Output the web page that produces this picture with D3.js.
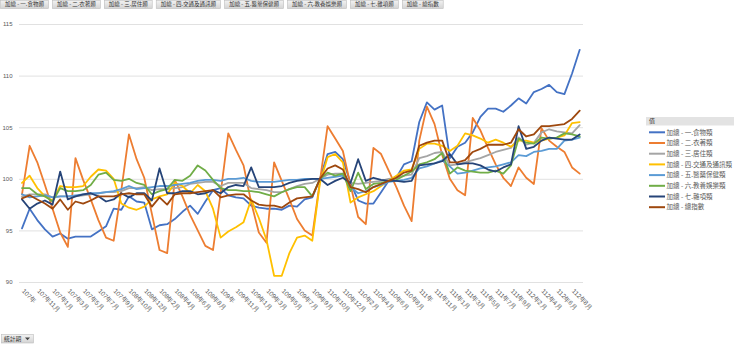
<!DOCTYPE html>
<html><head><meta charset="utf-8">
<script src="https://cdn.jsdelivr.net/npm/d3@7"></script>
<style>
html,body{margin:0;padding:0;background:#fff;overflow:hidden}
svg{display:block;font-family:"Noto Sans CJK TC","Noto Sans",sans-serif}
</style></head><body>
<svg id="chart" width="740" height="344"></svg>
<script>
// 統計期 (pivot row order: text sort of the period labels)
const categories = [
  "107年","107年10月","107年11月","107年12月","107年1月","107年2月","107年3月","107年4月","107年5月","107年6月","107年7月","107年8月","107年9月",
  "108年","108年10月","108年11月","108年12月","108年1月","108年2月","108年3月","108年4月","108年5月","108年6月","108年7月","108年8月","108年9月",
  "109年","109年10月","109年11月","109年12月","109年1月","109年2月","109年3月","109年4月","109年5月","109年6月","109年7月","109年8月","109年9月",
  "110年","110年10月","110年11月","110年12月","110年1月","110年2月","110年3月","110年4月","110年5月","110年6月","110年7月","110年8月","110年9月",
  "111年","111年10月","111年11月","111年12月","111年1月","111年2月","111年3月","111年4月","111年5月","111年6月","111年7月","111年8月","111年9月",
  "112年1月","112年2月","112年3月","112年4月","112年5月","112年6月","112年7月","112年8月","112年9月"
];

const seriesNames = [
  "加總 - 一.食物類","加總 - 二.衣著類","加總 - 三.居住類","加總 - 四.交通及通訊類",
  "加總 - 五.醫藥保健類","加總 - 六.教養娛樂類","加總 - 七.雜項類","加總 - 總指數"
];
const seriesColors = ["#4472C4","#ED7D31","#A5A5A5","#FFC000","#5B9BD5","#70AD47","#264478","#9E480E"];

const food = [95.2,97.1,96.0,95.1,94.4,94.7,94.2,94.4,94.4,94.4,94.9,95.4,97.1,97.0,98.3,
  97.8,97.7,95.1,95.5,95.6,96.1,96.8,97.4,96.6,97.8,98.9,99.1,98.4,98.2,98.1,
  97.4,97.2,97.1,97.1,97.0,97.4,97.3,98.0,98.2,100.0,102.4,102.6,101.9,99.6,
  97.9,97.6,97.6,98.7,99.8,100.1,101.4,101.7,105.5,107.4,106.7,107.1,102.0,
  103.1,103.5,104.5,106.0,106.8,106.8,106.5,107.1,107.8,107.3,108.4,108.7,109.1,108.4,108.2,110.2,112.5];
const clothing = [98.5,103.2,101.6,99.4,97.1,94.8,93.4,102.0,99.9,98.0,96.0,94.3,94.0,98.9,104.3,
  101.9,100.1,96.6,93.1,92.8,99.9,98.3,96.5,95.0,93.5,93.1,98.6,104.4,102.8,101.3,
  97.7,94.8,93.8,101.6,99.8,98.0,96.1,95.0,94.5,99.8,105.1,103.9,102.7,99.4,
  96.3,95.6,103.0,102.4,100.8,99.2,97.4,95.9,103.7,107.0,105.3,102.3,100.0,
  98.9,98.4,105.9,104.7,103.0,101.4,100.1,99.3,101.1,100.1,99.5,104.9,103.7,103.1,102.6,101.1,100.5];
const housing = [98.3,98.5,98.5,98.5,98.2,98.3,98.3,98.3,98.4,98.5,98.6,98.7,98.7,
  98.8,99.1,99.1,99.2,98.9,99.0,99.0,99.1,99.2,99.5,99.6,99.7,99.7,
  99.3,99.6,99.6,99.6,99.1,99.0,98.9,98.7,98.7,99.0,99.3,99.5,99.6,
  100.0,100.4,100.5,100.5,99.6,99.5,99.6,99.7,99.8,100.0,100.1,100.3,100.4,
  102.0,102.2,102.5,102.6,101.3,101.4,101.6,101.8,102.0,102.3,102.6,102.8,103.0,
  104.0,103.3,103.5,104.5,104.8,104.6,104.5,104.4,105.2];
const transport = [99.6,100.3,99.1,98.3,97.9,99.3,99.2,99.2,99.3,100.2,100.9,100.8,100.0,97.6,97.2,
  97.0,97.3,98.0,98.3,98.5,99.6,99.3,98.6,99.4,98.8,97.1,94.3,94.9,95.3,95.8,
  98.0,96.2,94.1,90.6,90.6,92.8,94.3,94.5,94.0,99.6,102.1,102.4,101.6,97.7,
  98.2,98.5,98.8,99.3,99.8,100.3,100.8,100.9,102.9,103.4,103.4,103.2,102.7,
  103.2,104.4,104.2,103.9,103.5,103.8,103.5,103.1,103.7,103.7,103.5,103.7,103.9,104.0,104.2,105.4,105.5];
const health = [98.5,98.2,98.3,98.4,98.2,98.3,98.3,98.4,98.5,98.6,98.6,98.7,98.8,
  99.0,99.3,99.0,99.1,99.2,99.3,99.3,99.4,99.5,99.6,99.8,99.9,99.9,
  99.8,100.0,100.0,100.1,99.8,99.7,99.7,99.7,99.8,99.9,99.9,100.0,100.0,
  100.0,100.1,100.2,100.3,99.2,98.6,98.8,99.2,99.4,99.7,99.8,99.9,100.1,
  101.0,101.2,101.5,101.8,101.2,100.5,100.6,100.8,101.0,101.1,101.2,101.4,101.6,
  102.3,102.2,102.6,102.7,102.9,102.9,103.7,103.8,104.0];
const education = [99.1,99.1,98.5,98.3,97.8,99.1,98.8,98.8,98.9,99.4,100.4,100.6,99.9,99.8,100.0,
  99.6,99.4,98.5,98.8,99.0,99.9,99.8,100.3,101.3,100.8,99.9,99.1,98.9,98.9,98.8,
  98.8,98.7,98.5,98.3,98.7,99.0,99.2,99.2,98.3,100.0,100.6,100.3,100.5,98.8,
  100.6,99.0,99.5,99.6,99.8,99.9,100.3,100.7,101.4,101.6,101.9,102.5,100.5,
  101.1,100.8,100.7,100.6,100.6,100.8,100.5,101.3,103.9,103.5,103.4,104.0,103.9,104.0,104.4,104.3,104.1];
const misc = [98.0,97.1,97.6,97.9,97.5,100.7,98.0,98.3,98.5,98.6,98.3,97.8,98.0,98.6,98.2,
  98.6,98.6,97.9,101.0,98.6,98.6,98.8,98.8,98.5,98.6,98.9,98.6,99.2,99.4,99.3,
  101.1,99.2,99.2,99.2,99.3,99.6,99.8,99.9,100.0,100.0,99.4,99.8,100.1,99.6,
  101.9,99.8,100.1,99.9,99.8,99.8,99.7,99.8,101.3,101.4,101.5,101.7,102.4,
  101.4,101.5,101.5,101.3,100.9,100.7,101.1,101.4,105.1,102.9,103.1,103.7,104.0,103.9,103.8,103.8,104.3];
const overall = [98.1,98.4,98.0,97.6,97.1,98.0,97.0,97.8,97.6,97.9,98.3,98.3,98.3,98.5,98.6,
  98.5,98.5,97.3,98.2,97.5,98.5,98.6,98.6,98.7,98.8,98.9,98.2,98.4,98.5,98.5,
  97.9,97.5,97.4,97.4,97.2,97.7,98.1,98.2,98.3,100.0,101.0,101.3,100.9,99.2,
  99.0,98.7,99.2,99.5,99.8,100.1,100.6,100.8,103.2,103.5,103.7,103.7,101.6,
  101.6,101.8,102.6,102.9,103.3,103.3,103.3,103.5,104.8,104.1,104.3,105.1,105.1,105.2,105.3,105.8,106.6];

const yTicks = [90, 95, 100, 105, 110, 115];
const xTickLabels = categories.filter((d, i) => i % 2 === 0);
const legendTitle = "值";
const rowFieldLabel = "統計期";

const seriesValues = [food, clothing, housing, transport, health, education, misc, overall];
const series = seriesNames.map((name, k) => ({ name, color: seriesColors[k], values: seriesValues[k] }));

const svg = d3.select("#chart");
const textColor = "#595959";
const gridColor = "#d9d9d9";

// button gradient
const defs = svg.append("defs");
const grad = defs.append("linearGradient").attr("id", "btnGrad").attr("x1", 0).attr("y1", 0).attr("x2", 0).attr("y2", 1);
grad.append("stop").attr("offset", "0%").attr("stop-color", "#f2f2f2");
grad.append("stop").attr("offset", "100%").attr("stop-color", "#d4d4d4");

const x = d3.scalePoint().domain(categories).range([22, 579.7]);
const y = d3.scaleLinear().domain([90, 115]).range([282, 24]);

// value axis with gridlines
const yAxis = svg.append("g")
  .attr("transform", "translate(19,0)")
  .call(d3.axisLeft(y).tickValues(yTicks).tickSize(-564).tickPadding(6.5));
yAxis.select(".domain").remove();
yAxis.selectAll(".tick line").attr("stroke", gridColor).attr("stroke-width", 0.8);
yAxis.selectAll(".tick text").attr("fill", textColor).style("fill", textColor).style("font-size", "6px")
  .style("font-family", "'Liberation Sans', Arial, sans-serif");

// category axis
const xAxis = svg.append("g")
  .attr("transform", "translate(0,282)")
  .call(d3.axisBottom(x).tickValues(xTickLabels).tickSize(0));
xAxis.select(".domain").remove();
xAxis.selectAll(".tick text")
  .attr("y", 0).attr("x", 0).attr("dy", "0.35em")
  .attr("text-anchor", "start")
  .attr("transform", "translate(0.5,8) rotate(45)")
  .attr("fill", textColor)
  .style("fill", textColor)
  .style("font-size", "6.4px");

// series lines
const line = d3.line()
  .x((d, i) => x(categories[i]))
  .y(d => y(d));
svg.append("g").selectAll("path")
  .data(series)
  .join("path")
  .attr("d", d => line(d.values))
  .attr("fill", "none")
  .attr("stroke", d => d.color)
  .attr("stroke-width", 1.8)
  .attr("stroke-linejoin", "round")
  .attr("stroke-linecap", "round");

// legend
const lg = svg.append("g");
lg.append("rect").attr("x", 646).attr("y", 117).attr("width", 88).attr("height", 8.5).attr("fill", "#e3e3e3");
lg.append("text").attr("x", 649).attr("y", 121.3).attr("dy", "0.35em")
  .attr("fill", "#333").style("font-size", "6px").text(legendTitle);
const items = lg.selectAll("g.item").data(series).join("g")
  .attr("class", "item")
  .attr("transform", (d, i) => `translate(0,${132.3 + i * 10.7})`);
items.append("line").attr("x1", 649).attr("x2", 665).attr("y1", 0).attr("y2", 0)
  .attr("stroke", d => d.color).attr("stroke-width", 2);
items.append("text").attr("x", 666.5).attr("y", 0).attr("dy", "0.35em")
  .attr("fill", textColor).style("font-size", "6.5px").text(d => d.name);

// pivot field buttons along the top
const btns = svg.append("g");
let bx = 0;
seriesNames.forEach(name => {
  const g = btns.append("g");
  const t = g.append("text").attr("y", 4.3).attr("dy", "0.35em")
    .attr("fill", "#333").style("font-size", "5.5px").text(name);
  const w = t.node().getComputedTextLength() + 10;
  g.insert("rect", "text").attr("x", bx + 0.5).attr("y", 0.5).attr("width", w - 1).attr("height", 8)
    .attr("fill", "url(#btnGrad)").attr("stroke", "#bdbdbd").attr("stroke-width", 0.6);
  t.attr("x", bx + 5);
  bx += w + 3;
});

// row field button at the bottom left
const rb = svg.append("g");
rb.append("rect").attr("x", 1.5).attr("y", 334.5).attr("width", 32).attr("height", 8.5)
  .attr("fill", "url(#btnGrad)").attr("stroke", "#bdbdbd").attr("stroke-width", 0.6);
rb.append("text").attr("x", 4).attr("y", 338.8).attr("dy", "0.35em")
  .attr("fill", "#333").style("font-size", "5.8px").text(rowFieldLabel);
rb.append("path").attr("d", "M25,337.6 L30,337.6 L27.5,340.3 Z").attr("fill", "#444");
</script>
</body></html>
